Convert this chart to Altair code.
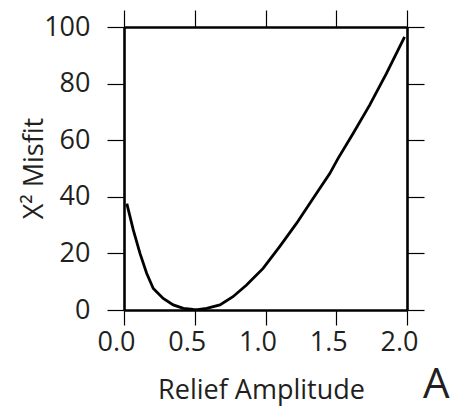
import altair as alt
import pandas as pd

amp = [0.02, 0.066, 0.113, 0.16, 0.207, 0.277, 0.348, 0.42, 0.49, 0.52, 0.584, 0.678, 0.77,
       0.866, 0.983, 1.10, 1.219, 1.336, 1.454, 1.512, 1.619, 1.736, 1.854, 1.983]
misfit = [37.6, 28.2, 20.0, 13.0, 7.6, 4.1, 1.8, 0.6, 0.2, 0.1, 0.6, 1.8, 4.7,
          8.8, 14.7, 22.4, 30.6, 39.4, 48.2, 53.5, 62.4, 72.4, 83.5, 96.5]
x_ticks = [0.0, 0.5, 1.0, 1.5, 2.0]
y_ticks = [0, 20, 40, 60, 80, 100]

df = pd.DataFrame({"amp": amp, "misfit": misfit})

FONT = "Open Sans"
TXT = "#231f20"

line = alt.Chart(df).mark_line(color="black", strokeWidth=2.8, clip=True).encode(
    x=alt.X("amp:Q", scale=alt.Scale(domain=[0, 2], nice=False),
            axis=alt.Axis(values=x_ticks, format=".1f", orient="bottom",
                          tickSize=15, tickWidth=1.2, tickColor="black",
                          labelFontSize=27, labelFont=FONT, labelColor=TXT,
                          labelPadding=4, labelOffset=-8, labelFlush=False,
                          domain=True, domainWidth=2.6, domainColor="black",
                          grid=False, title="Relief Amplitude",
                          titleFont=FONT, titleFontSize=27, titleFontWeight="normal",
                          titleColor=TXT, titleX=137, titleY=88,
                          titleBaseline="alphabetic")),
    y=alt.Y("misfit:Q", scale=alt.Scale(domain=[0, 100], nice=False),
            axis=alt.Axis(values=y_ticks, orient="left",
                          tickSize=17, tickWidth=1.2, tickColor="black",
                          labelFontSize=27, labelFont=FONT, labelColor=TXT,
                          labelPadding=17, labelFlush=False,
                          domain=True, domainWidth=2.6, domainColor="black",
                          grid=False, title="Χ² Misfit",
                          titleFont=FONT, titleFontSize=27, titleFontWeight="normal",
                          titleColor=TXT, titleX=-82, titleY=141,
                          titleBaseline="alphabetic")),
)

top = alt.Chart(df).mark_point(opacity=0).encode(
    x=alt.X("amp:Q", scale=alt.Scale(domain=[0, 2], nice=False),
            axis=alt.Axis(values=x_ticks, orient="top", labels=False, title=None,
                          tickSize=17, tickWidth=1.2, tickColor="black",
                          domain=True, domainWidth=2.6, domainColor="black", grid=False)),
    y=alt.Y("misfit:Q", scale=alt.Scale(domain=[0, 100], nice=False),
            axis=alt.Axis(values=y_ticks, orient="right", labels=False, title=None,
                          tickSize=17, tickWidth=1.2, tickColor="black",
                          domain=True, domainWidth=2.6, domainColor="black", grid=False)),
)

label = alt.Chart(pd.DataFrame({"t": ["A"]})).mark_text(
    font=FONT, fontSize=42, color=TXT, align="left", baseline="alphabetic"
).encode(text="t:N", x=alt.value(299), y=alt.value(371))

chart = alt.layer(line, top, label).resolve_axis(x="independent", y="independent").properties(
    width=283, height=283,
    autosize=alt.AutoSizeParams(type="none"),
    padding={"left": 124, "top": 27, "right": 49, "bottom": 97},
).configure_view(stroke=None)

chart.save("out.html", embed_options={"renderer": "svg", "actions": False})
